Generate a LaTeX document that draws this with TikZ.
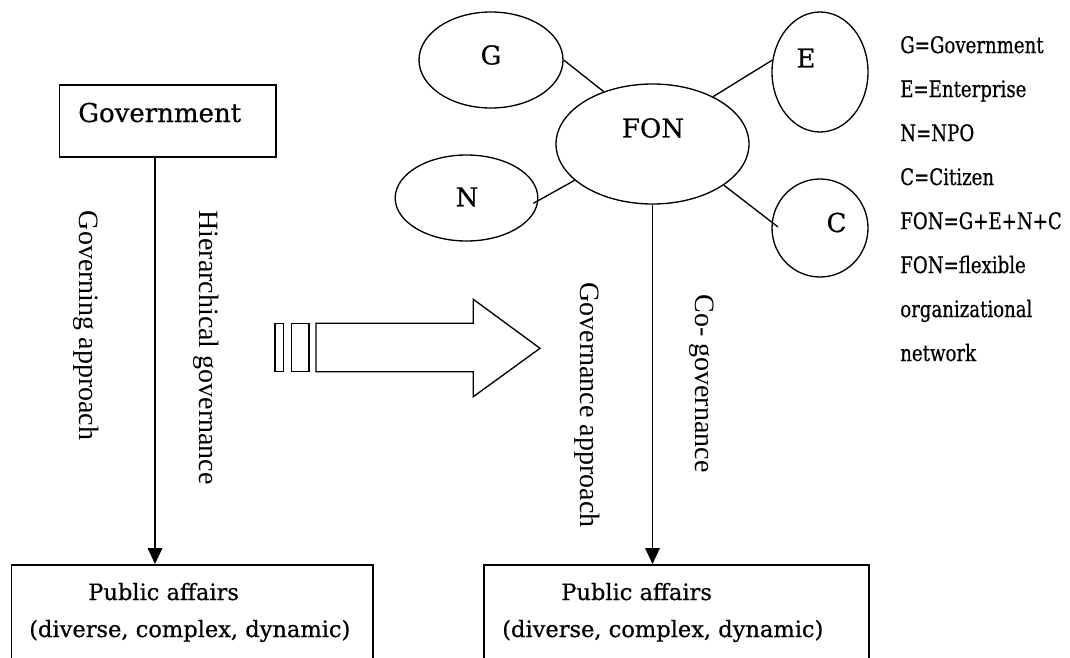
\documentclass[tikz,border=0pt]{standalone}
\usepackage{fontspec}
\setmainfont{DejaVu Serif}[FakeBold=0.6]
\newfontfamily\romanfont{Liberation Serif}
\newfontfamily\keyfont{DejaVu Serif}[FakeStretch=0.8,FakeBold=0.6]
\usetikzlibrary{shapes.geometric,arrows.meta}
\tikzset{
  actor/.style={draw,ellipse,line width=1pt,inner sep=0pt},
  box/.style={draw,rectangle,line width=1.3pt,inner sep=0pt,anchor=north west},
  lbl/.style={inner sep=0pt,font=\fontsize{19.5}{23}\selectfont},
  vlbl/.style={inner sep=0pt,rotate=-90,font=\romanfont\fontsize{21}{25}\selectfont},
  pa/.style={inner sep=0pt,anchor=base west,font=\fontsize{16.9}{20}\selectfont},
  key/.style={inner sep=0pt,anchor=base west,font=\keyfont\fontsize{17}{21}\selectfont},
  link/.style={line width=1pt},
  flow/.style={line width=1pt,-{Triangle[length=12pt,width=11pt]}}
}
\begin{document}
\begin{tikzpicture}[x=0.75pt,y=0.75pt,yscale=-1,xscale=1]
\clip (0,0) rectangle (1070,657);
\node[box,minimum width=162.5pt,minimum height=54pt] (gov) at (58.7,84) {};
\node[lbl,anchor=base west] (govt) at (78,122) {Government};
\node[box,minimum width=271pt,minimum height=90pt] (pub1) at (10.7,564) {};
\node[box,minimum width=288.75pt,minimum height=90pt] (pub2) at (483,564) {};
\node[pa] (pub1a) at (88,600) {Public affairs};
\node[pa] (pub1b) at (29,637) {(diverse, complex, dynamic)};
\node[pa] (pub2a) at (561,600) {Public affairs};
\node[pa] (pub2b) at (502,637) {(diverse, complex, dynamic)};
\node[actor,minimum width=108pt,minimum height=72pt] (G) at (491,60) {};
\node[actor,minimum width=144.75pt,minimum height=90pt] (FON) at (652.5,144) {};
\node[actor,minimum width=72pt,minimum height=90pt] (E) at (820,72) {};
\node[actor,minimum width=107pt,minimum height=64.5pt] (N) at (466.5,198) {};
\node[actor,minimum width=72pt,minimum height=73.5pt] (C) at (820,228) {};
\node[lbl] (Gt) at (491,55) {G};
\node[lbl] (FONt) at (653,128) {FON};
\node[lbl] (Et) at (806,58) {E};
\node[lbl] (Nt) at (467,197) {N};
\node[lbl] (Ct) at (836.5,222.5) {C};
\draw[link] (G.east) -- (FON.133);
\draw[link] (FON.38) -- (E.166);
\draw[link,shorten <=-4.3pt] (N.-2.5) -- (FON.205);
\draw[link,shorten >=-6pt] (FON.-30) -- (C.173);
\coordinate (tipL) at (155,564);
\draw[flow] (gov.south -| tipL) -- (tipL);
\draw[flow] (FON.south) -- (FON.south |- pub2.north);
\node[vlbl] (gapp) at (86.5,325.5) {Governing approach};
\node[vlbl] (hier) at (206,347.5) {Hierarchical governance};
\node[vlbl] (gvapp) at (587,405) {Governance approach};
\node[vlbl] (cogov) at (701.5,383.5) {Co- governance};
\draw[line width=1pt] (275,323.3) rectangle (283.3,371.7);
\draw[line width=1pt] (291.7,323.3) rectangle (309,371.7);
\draw[line width=1pt] (316,323.3) -- (473.3,323.3) -- (473.3,299.3) -- (540,348.3) -- (473.3,396.7) -- (473.3,371.7) -- (316,371.7) -- cycle;
\node[key] (kG) at (900,53) {G=Government};
\node[key] (kE) at (900,97) {E=Enterprise};
\node[key] (kN) at (900,141) {N=NPO};
\node[key] (kC) at (900,185) {C=Citizen};
\node[key] (kF) at (900,229) {FON=G+E+N+C};
\node[key] (kF2) at (900,273) {FON=flexible};
\node[key] (kO) at (900,317) {organizational};
\node[key] (kN2) at (900,361) {network};
\end{tikzpicture}
\end{document}
